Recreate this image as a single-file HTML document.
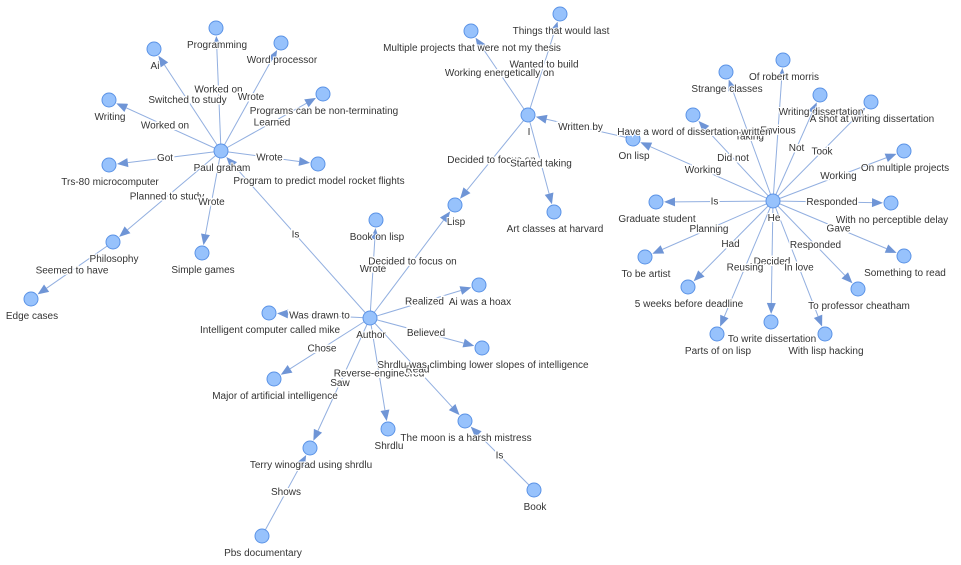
<!DOCTYPE html>
<html><head><meta charset="utf-8"><style>
html,body{margin:0;padding:0;background:#fff;width:961px;height:565px;overflow:hidden}
svg text{font-family:"Liberation Sans",Arial,sans-serif;font-size:10px;fill:#343434;text-anchor:middle}
</style></head><body>
<svg id="g" width="961" height="565" xmlns="http://www.w3.org/2000/svg"></svg>
<script>
const N={
PG:[221,151,"Paul graham"],Ai:[154,49,"Ai"],Prog:[216,28,"Programming"],WP:[281,43,"Word processor"],
Wr:[109,100,"Writing"],PNT:[323,94,"Programs can be non-terminating"],Trs:[109,165,"Trs-80 microcomputer"],
PR:[318,164,"Program to predict model rocket flights"],Phil:[113,242,"Philosophy"],SG:[202,253,"Simple games"],
EC:[31,299,"Edge cases"],Au:[370,318,"Author"],BoL:[376,220,"Book on lisp"],Lisp:[455,205,"Lisp"],
Hoax:[479,285,"Ai was a hoax"],Mike:[269,313,"Intelligent computer called mike"],
SC:[482,348,"Shrdlu was climbing lower slopes of intelligence"],Maj:[274,379,"Major of artificial intelligence"],
Sh:[388,429,"Shrdlu"],Moon:[465,421,"The moon is a harsh mistress"],TW:[310,448,"Terry winograd using shrdlu"],
Book:[534,490,"Book"],Pbs:[262,536,"Pbs documentary"],I:[528,115,"I"],
MP:[471,31,"Multiple projects that were not my thesis"],TL:[560,14,"Things that would last"],
Art:[554,212,"Art classes at harvard"],OL:[633,139,"On lisp"],He:[773,201,"He"],
Str:[726,72,"Strange classes"],RM:[783,60,"Of robert morris"],WD:[820,95,"Writing dissertation"],
AS:[871,102,"A shot at writing dissertation"],HW:[693,115,"Have a word of dissertation written"],
OMP:[904,151,"On multiple projects"],GS:[656,202,"Graduate student"],NPD:[891,203,"With no perceptible delay"],
TBA:[645,257,"To be artist"],STR:[904,256,"Something to read"],FW:[688,287,"5 weeks before deadline"],
PC:[858,289,"To professor cheatham"],TWD:[771,322,"To write dissertation"],POL:[717,334,"Parts of on lisp"],
WLH:[825,334,"With lisp hacking"]};
const E=[
["PG","Ai","Switched to study"],["PG","Prog","Worked on"],["PG","WP","Wrote"],["PG","Wr","Worked on"],
["PG","PNT","Learned"],["PG","Trs","Got"],["PG","PR","Wrote"],["PG","Phil","Planned to study"],
["PG","SG","Wrote"],["Phil","EC","Seemed to have"],["Au","PG","Is"],["Au","BoL","Wrote"],
["Au","Lisp","Decided to focus on"],["Au","Hoax","Realized"],["Au","Mike","Was drawn to"],
["Au","SC","Believed"],["Au","Maj","Chose"],["Au","Sh","Reverse-engineered"],["Au","Moon","Read"],
["Au","TW","Saw"],["Book","Moon","Is"],["Pbs","TW","Shows"],["I","MP","Working energetically on"],
["I","TL","Wanted to build"],["I","Lisp","Decided to focus on"],["I","Art","Started taking"],
["OL","I","Written by"],["He","OL","Working"],["He","HW","Did not"],["He","Str","Taking"],
["He","RM","Envious"],["He","WD","Not"],["He","AS","Took"],["He","OMP","Working"],["He","GS","Is"],
["He","NPD","Responded"],["He","TBA","Planning"],["He","STR","Gave"],["He","FW","Had"],
["He","PC","Responded"],["He","TWD","Decided"],["He","POL","Reusing"],["He","WLH","In love"]];
const s=document.getElementById("g");let h="";let lab="";
for(const [a,b,t] of E){const [x1,y1]=N[a],[x2,y2]=N[b];const dx=x2-x1,dy=y2-y1,L=Math.hypot(dx,dy),ux=dx/L,uy=dy/L;
const ex=x2-ux*8,ey=y2-uy*8,bx=ex-ux*11,by=ey-uy*11,px=-uy*4.5,py=ux*4.5;
h+=`<line x1="${x1}" y1="${y1}" x2="${bx}" y2="${by}" stroke="#92afe0" stroke-width="1"/>`;
h+=`<polygon points="${ex},${ey} ${bx+px},${by+py} ${bx-px},${by-py}" fill="#6f95d6"/>`;
lab+=`<text x="${(x1+x2)/2}" y="${(y1+y2)/2+3}" stroke="#fff" stroke-width="3" paint-order="stroke">${t}</text>`;}
for(const k in N){const [x,y,t]=N[k];h+=`<circle cx="${x}" cy="${y}" r="7" fill="#97c2fc" stroke="#5b93e6" stroke-width="1"/>`;
lab+=`<text x="${x+1}" y="${y+20}" stroke="#fff" stroke-width="2" paint-order="stroke">${t}</text>`;}
s.innerHTML=h+lab;
</script>
</body></html>
